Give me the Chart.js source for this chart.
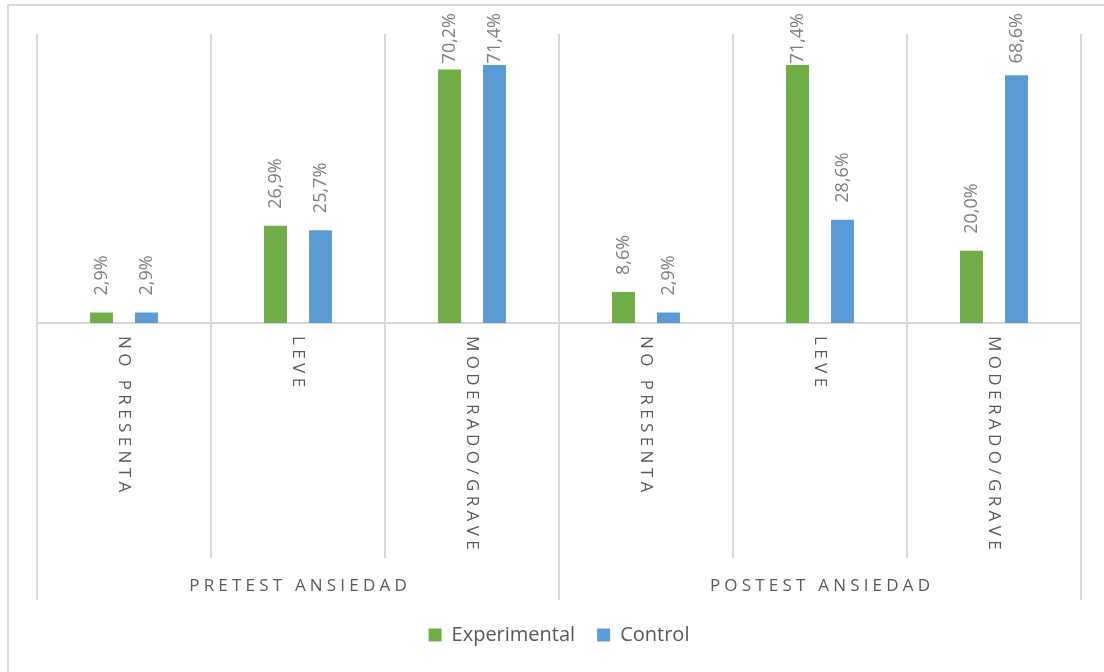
<!DOCTYPE html>
<html>
<head>
<meta charset="utf-8">
<script src="https://cdn.jsdelivr.net/npm/chart.js@4.4.1/dist/chart.umd.min.js"></script>
<style>
  html, body { margin: 0; padding: 0; background: #ffffff; }
  #wrap { position: relative; width: 1104px; height: 672px; }
</style>
</head>
<body>
<div id="wrap"><canvas id="chart" width="1104" height="672"></canvas></div>
<script>
// Outer grouping (test moment) and inner categories (anxiety level)
const groups = ['PRETEST ANSIEDAD', 'POSTEST ANSIEDAD'];
const levels = ['NO PRESENTA', 'LEVE', 'MODERADO/GRAVE'];
const categories = [
  'NO PRESENTA', 'LEVE', 'MODERADO/GRAVE',
  'NO PRESENTA', 'LEVE', 'MODERADO/GRAVE'
];
// Percentages per group
const experimental = [2.9, 26.9, 70.2, 8.6, 71.4, 20.0];
const control = [2.9, 25.7, 71.4, 2.9, 28.6, 68.6];
const seriesNames = ['Experimental', 'Control'];

const FONT = '"Open Sans", "Noto Sans", sans-serif';
const GRID = '#D9D9D9';
const LABEL_GRAY = '#595959';

function fmtPct(v) {
  return v.toFixed(1).replace('.', ',') + '%';
}

// Draws text one glyph at a time with extra tracking; returns total width
function spacedWidth(ctx, text, spacing) {
  let w = 0;
  for (const ch of text) w += ctx.measureText(ch).width + spacing;
  return w - spacing;
}
function drawSpaced(ctx, text, x, y, spacing) {
  let cx = x;
  for (const ch of text) {
    ctx.fillText(ch, cx, y);
    cx += ctx.measureText(ch).width + spacing;
  }
}

// Frame, category separators, baseline and two-level axis labels
const axisDecor = {
  id: 'axisDecor',
  beforeDraw(chart) {
    const ctx = chart.ctx;
    ctx.save();
    ctx.strokeStyle = GRID;
    ctx.lineWidth = 2;
    ctx.strokeRect(8, 5, 1300, 900);
    ctx.restore();
  },
  beforeDatasetsDraw(chart) {
    const ctx = chart.ctx;
    const xs = chart.scales.x;
    const ys = chart.scales.y;
    const area = chart.chartArea;
    const n = categories.length;
    const step = xs.width / n;
    const y0 = ys.getPixelForValue(0);
    ctx.save();
    ctx.strokeStyle = GRID;
    ctx.lineWidth = 2;
    for (let i = 0; i <= n; i++) {
      const x = Math.round(xs.left + step * i);
      const isGroupEdge = i % levels.length === 0;
      ctx.beginPath();
      ctx.moveTo(x, area.top);
      ctx.lineTo(x, isGroupEdge ? 600 : 558);
      ctx.stroke();
    }
    ctx.beginPath();
    ctx.moveTo(xs.left, Math.round(y0));
    ctx.lineTo(xs.right, Math.round(y0));
    ctx.stroke();

    // inner category labels, rotated to read downward
    ctx.fillStyle = LABEL_GRAY;
    ctx.font = '17px ' + FONT;
    ctx.textBaseline = 'middle';
    ctx.textAlign = 'left';
    for (let i = 0; i < n; i++) {
      const cx = xs.getPixelForValue(i);
      ctx.save();
      ctx.translate(cx, y0 + 13);
      ctx.rotate(Math.PI / 2);
      drawSpaced(ctx, categories[i], 0, 0, 4.4);
      ctx.restore();
    }
    // outer group labels
    ctx.font = '17px ' + FONT;
    for (let g = 0; g < groups.length; g++) {
      const gx = xs.left + step * levels.length * (g + 0.5);
      const w = spacedWidth(ctx, groups[g], 4.2);
      drawSpaced(ctx, groups[g], gx - w / 2, 586, 4.2);
    }
    ctx.restore();
  },
  afterDatasetsDraw(chart) {
    const ctx = chart.ctx;
    ctx.save();
    ctx.fillStyle = '#7F7F7F';
    ctx.font = '18px ' + FONT;
    ctx.textBaseline = 'middle';
    ctx.textAlign = 'left';
    chart.data.datasets.forEach((ds, di) => {
      const meta = chart.getDatasetMeta(di);
      meta.data.forEach((bar, i) => {
        const txt = fmtPct(ds.data[i]);
        const w = ctx.measureText(txt).width;
        const start = Math.max(bar.y - 17, 13 + w);
        ctx.save();
        ctx.translate(bar.x, start);
        ctx.rotate(-Math.PI / 2);
        ctx.fillText(txt, 0, 0);
        ctx.restore();
      });
    });
    ctx.restore();
  }
};

new Chart(document.getElementById('chart'), {
  type: 'bar',
  data: {
    labels: categories,
    datasets: [
      {
        label: seriesNames[0],
        data: experimental,
        backgroundColor: '#70AD47',
        borderWidth: 0,
        categoryPercentage: 0.517,
        barPercentage: 0.51
      },
      {
        label: seriesNames[1],
        data: control,
        backgroundColor: '#5B9BD5',
        borderWidth: 0,
        categoryPercentage: 0.517,
        barPercentage: 0.51
      }
    ]
  },
  options: {
    responsive: false,
    animation: false,
    events: [],
    layout: { padding: { left: 37, right: 23, top: 34, bottom: 17 } },
    scales: {
      x: {
        type: 'category',
        offset: true,
        grid: { display: false },
        border: { display: false },
        ticks: { display: false },
        afterFit(scale) { scale.height = 280; }
      },
      y: {
        display: false,
        min: 0,
        max: 80
      }
    },
    plugins: {
      legend: {
        position: 'bottom',
        labels: {
          boxWidth: 13,
          boxHeight: 13,
          padding: 22,
          color: LABEL_GRAY,
          font: { family: FONT, size: 20 }
        }
      },
      tooltip: { enabled: false }
    }
  },
  plugins: [axisDecor]
});
</script>
</body>
</html>
